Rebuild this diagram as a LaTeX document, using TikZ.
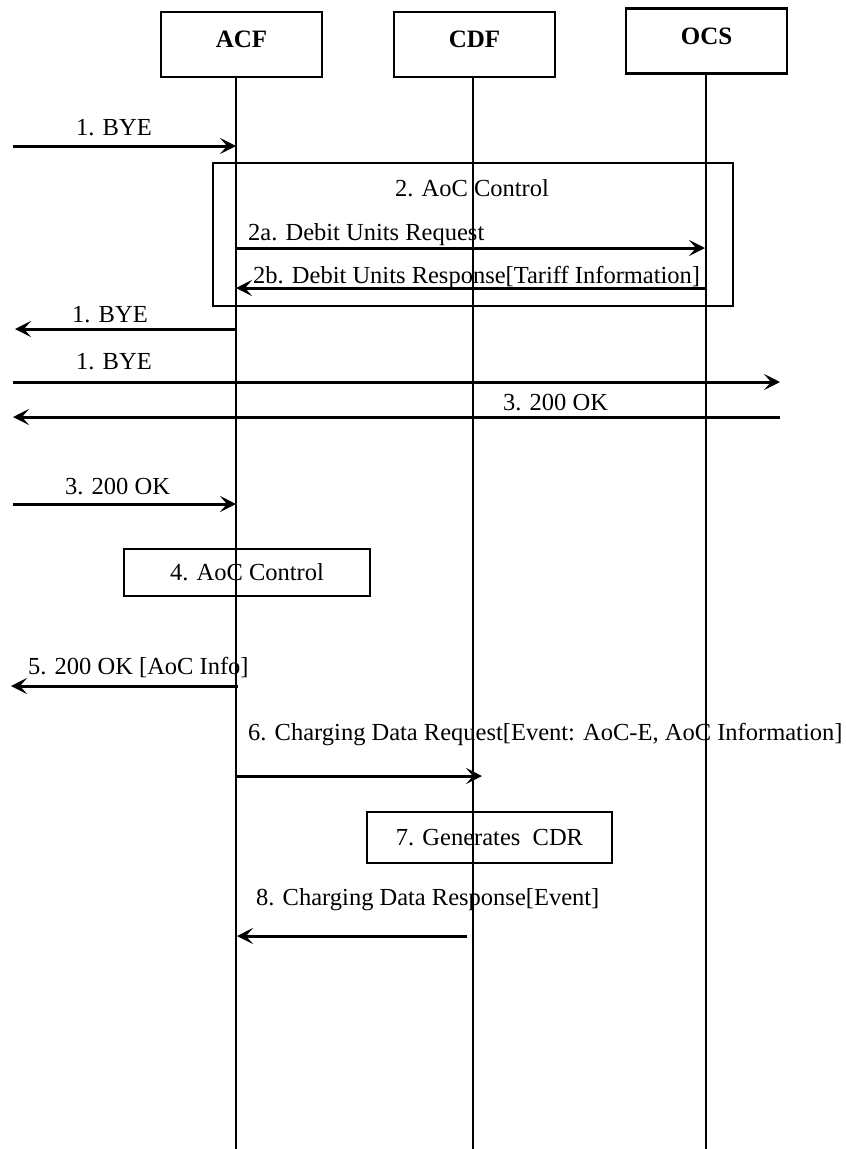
\documentclass[tikz,border=0pt]{standalone}
\usepackage{fontspec}
\setmainfont{Liberation Serif}
\usetikzlibrary{arrows.meta}
\begin{document}
\begin{tikzpicture}[x=1pt,y=-1pt,
  hdr/.style={draw,line width=2.4pt,minimum width=161pt,minimum height=65pt,inner sep=0pt,
    font=\fontsize{25}{28}\selectfont\bfseries,text height=17pt,text depth=11pt},
  procbox/.style={draw,line width=2.4pt,inner sep=0pt},
  lifeline/.style={line width=2pt},
  msg/.style={line width=3pt,-{Stealth[length=16pt,width=16pt,inset=7pt]}},
  lbl/.style={font=\fontsize{24.5}{28}\selectfont,inner sep=0pt,anchor=west},
  ctr/.style={font=\fontsize{24.5}{28}\selectfont,inner sep=0pt}]
\useasboundingbox (0,0) rectangle (846,1149);
% header boxes
\node[hdr] (acf) at (241.5,44.5) {ACF};
\node[hdr] (cdf) at (474.5,44.5) {CDF};
\node[hdr] (ocs) at (706.5,41) {OCS};
% lifeline ends
\coordinate (acfT) at (236,77);  \coordinate (acfB) at (236,1149);
\coordinate (cdfT) at (473,77);  \coordinate (cdfB) at (473,1149);
\coordinate (ocsT) at (706,73);  \coordinate (ocsB) at (706,1149);
% process boxes
\node[procbox,minimum width=520pt,minimum height=143pt] (aoc2) at (473,234.5) {};
\node[procbox,minimum width=246pt,minimum height=47pt,ctr] (aoc4) at (247,572.5) {4. AoC Control};
\node[procbox,minimum width=245pt,minimum height=51pt,ctr] (cdr) at (489.5,837.5) {7. Generates\enspace CDR};
% lifelines
\draw[lifeline] (acfT) -- (acfB);
\draw[lifeline] (cdfT) -- (cdfB);
\draw[lifeline] (ocsT) -- (ocsB);
% outside end points
\coordinate (w1) at (13,146);   \coordinate (a1) at (236,146);
\coordinate (a2a) at (236,248); \coordinate (o2a) at (705,248);
\coordinate (o2b) at (706,288); \coordinate (a2b) at (236,288);
\coordinate (a1r) at (237,329); \coordinate (w1r) at (15,329);
\coordinate (w1f) at (13,382);  \coordinate (e1f) at (780,382);
\coordinate (e3) at (780,417);  \coordinate (w3) at (13,417);
\coordinate (w3b) at (13,504);  \coordinate (a3b) at (236,504);
\coordinate (a5) at (238,686);  \coordinate (w5) at (11,686);
\coordinate (a6) at (236,776);  \coordinate (c6) at (482,776);
\coordinate (c8) at (467,936);  \coordinate (a8) at (237,936);
% messages
\draw[msg] (w1) -- (a1);
\node[lbl] (t1) at (76,128) {1. BYE};
\node[ctr] (t2) at (472,188) {2. AoC Control};
\draw[msg] (a2a) -- (o2a);
\node[lbl] (t2a) at (248,235) {2a. Debit Units Request};
\draw[msg] (o2b) -- (a2b);
\node[lbl] (t2b) at (253,277) {2b. Debit Units Response[Tariff Information]};
\draw[msg] (a1r) -- (w1r);
\node[lbl] (t1r) at (72,315) {1. BYE};
\draw[msg] (w1f) -- (e1f);
\node[lbl] (t1f) at (76,362) {1. BYE};
\draw[msg] (e3) -- (w3);
\node[lbl] (t3) at (503,403) {3. 200 OK};
\draw[msg] (w3b) -- (a3b);
\node[lbl] (t3b) at (65,487) {3. 200 OK};
\draw[msg] (a5) -- (w5);
\node[lbl] (t5) at (28,668) {5. 200 OK [AoC Info]};
\draw[msg] (a6) -- (c6);
\node[lbl] (t6) at (248,735) {6. Charging Data Request[Event: AoC-E, AoC Information]};
\draw[msg] (c8) -- (a8);
\node[lbl] (t8) at (256,900) {8. Charging Data Response[Event]};
\end{tikzpicture}
\end{document}
